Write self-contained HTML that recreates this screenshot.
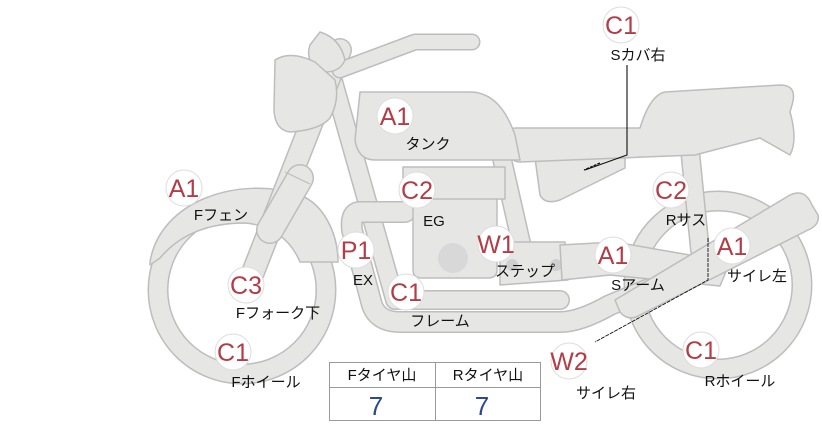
<!DOCTYPE html>
<html><head><meta charset="utf-8"><style>
html,body{margin:0;padding:0;background:#fff;width:822px;height:425px;overflow:hidden}
svg{display:block}
.s{fill:#e6e6e4;stroke:#bdbdbd;stroke-width:1.5;stroke-linejoin:round}
.bo{fill:none;stroke:#bdbdbd;stroke-linecap:round;stroke-linejoin:round}
.bi{fill:none;stroke:#e6e6e4;stroke-linecap:round;stroke-linejoin:round}
.b{fill:#fff;stroke:#ddd;stroke-width:1}
.bt{font-family:"Liberation Sans","DejaVu Sans",sans-serif;font-size:25px;fill:#b33d47;text-anchor:middle}
.l{font-family:"Liberation Sans","Noto Sans CJK JP",sans-serif;font-size:15px;fill:#111;text-anchor:middle}
</style></head><body>
<svg width="822" height="425" viewBox="0 0 822 425">
<!-- wheels -->
<circle cx="242" cy="290" r="84" class="bo" stroke-width="21"/>
<circle cx="242" cy="290" r="84" class="bi" stroke-width="18"/>
<circle cx="718" cy="285" r="84" class="bo" stroke-width="21"/>
<circle cx="718" cy="285" r="84" class="bi" stroke-width="18"/>
<!-- front fender -->
<path class="s" d="M150,262 C160,200 240,175 300,195 C325,205 338,235 338,262 L300,262 C290,238 270,225 245,223 C200,223 175,240 160,258 L150,265 Z"/>
<!-- rear frame/seat support -->
<path class="bo" stroke-width="20" d="M690,150 L700,250"/>
<path class="bi" stroke-width="17" d="M690,150 L700,250"/>
<!-- frame tubes -->
<path class="bo" stroke-width="20" d="M330,70 L395,300 L560,300"/>
<path class="bi" stroke-width="17" d="M330,70 L395,300 L560,300"/>
<path class="bo" stroke-width="20" d="M500,150 L525,260"/>
<path class="bi" stroke-width="17" d="M500,150 L525,260"/>
<!-- exhaust -->
<path class="bo" stroke-width="22" d="M405,212 L360,212 Q350,212 352,230 L372,305 Q378,322 400,322 L560,322 Q580,322 610,305 L700,268"/>
<path class="bi" stroke-width="19" d="M405,212 L360,212 Q350,212 352,230 L372,305 Q378,322 400,322 L560,322 Q580,322 610,305 L700,268"/>
<!-- engine -->
<path class="s" d="M413,198 L497,198 L497,270 Q497,278 488,278 L422,278 Q413,278 413,270 Z"/>
<rect class="s" x="403" y="167" width="102" height="32"/>
<circle cx="453" cy="258" r="15" fill="#d8d8d8"/>
<!-- step plate -->
<path class="s" d="M500,242 L565,242 L568,280 L500,285 Z"/>
<circle cx="512" cy="265" r="6" fill="#cfcfcf"/><circle cx="556" cy="265" r="6" fill="#cfcfcf"/>
<!-- swing arm -->
<path class="s" d="M560,245 L615,242 L730,262 L720,286 L610,275 L562,280 Z"/>
<!-- muffler -->
<path class="s" d="M615,300 L790,195 Q805,188 812,205 L818,215 Q820,225 808,230 L640,315 Q628,322 620,312 Z"/>
<!-- seat side cover -->
<path class="s" d="M535,158 L625,158 L625,168 L560,200 Q545,205 540,195 Z"/>
<!-- seat -->
<path class="s" d="M515,128 L640,128 Q650,95 665,92 L780,85 Q798,85 792,105 L790,112 Q798,140 790,155 L760,138 L695,155 L520,162 Q510,162 510,150 L510,135 Q510,128 515,128 Z"/>
<!-- tank -->
<path class="s" d="M360,92 L470,92 Q500,92 515,135 L520,160 L375,160 Q358,160 355,140 Z"/>
<!-- fork -->
<path class="bo" stroke-width="24" d="M250,280 L340,50"/>
<path class="bi" stroke-width="21" d="M250,280 L340,50"/>
<path class="bo" stroke-width="28" d="M270,230 L300,178"/>
<path class="bi" stroke-width="25" d="M270,230 L300,178"/>
<line x1="285" y1="172" x2="310" y2="184" stroke="#bdbdbd" stroke-width="1.2"/>
<!-- handlebar -->
<path class="bo" stroke-width="17" d="M340,70 L415,42 L472,42"/>
<path class="bi" stroke-width="14" d="M340,70 L415,42 L472,42"/>
<!-- cap / mirror -->
<path class="s" d="M320,32 Q340,38 345,60 Q340,72 325,72 L318,70 Q305,60 310,45 Z"/>
<!-- headlight -->
<path class="s" d="M275,60 Q290,50 315,62 L335,80 Q340,100 330,118 Q320,130 290,132 Q275,130 274,110 Z"/>
<!-- connector lines -->
<polyline points="627,65 627,155 585,170" fill="none" stroke="#111" stroke-width="1.1"/>
<line x1="600" y1="163" x2="584" y2="170" stroke="#111" stroke-width="1.3" stroke-dasharray="3,1"/>
<polyline points="708,238 708,280 595,342" fill="none" stroke="#111" stroke-width="0.9" stroke-dasharray="4,1"/>
<!-- badges -->
<g>
<circle class="b" cx="621" cy="25" r="18"/><text class="bt" x="621" y="34">C1</text><text class="l" x="638" y="60">Sカバ右</text>
<circle class="b" cx="395" cy="116" r="18"/><text class="bt" x="395" y="125">A1</text><text class="l" x="428" y="149">タンク</text>
<circle class="b" cx="184" cy="188" r="18"/><text class="bt" x="184" y="197">A1</text><text class="l" x="221" y="220">Fフェン</text>
<circle class="b" cx="417" cy="190" r="18"/><text class="bt" x="417" y="199">C2</text><text class="l" x="434" y="226">EG</text>
<circle class="b" cx="671" cy="190" r="18"/><text class="bt" x="671" y="199">C2</text><text class="l" x="686" y="225">Rサス</text>
<circle class="b" cx="356" cy="250" r="18"/><text class="bt" x="356" y="259">P1</text><text class="l" x="363" y="285">EX</text>
<circle class="b" cx="496" cy="244" r="18"/><text class="bt" x="496" y="253">W1</text><text class="l" x="525" y="276">ステップ</text>
<circle class="b" cx="613" cy="255" r="18"/><text class="bt" x="613" y="264">A1</text><text class="l" x="638" y="290">Sアーム</text>
<circle class="b" cx="732" cy="246" r="18"/><text class="bt" x="732" y="255">A1</text><text class="l" x="757" y="281">サイレ左</text>
<circle class="b" cx="246" cy="285" r="18"/><text class="bt" x="246" y="294">C3</text><text class="l" x="278" y="318">Fフォーク下</text>
<circle class="b" cx="406" cy="292" r="18"/><text class="bt" x="406" y="301">C1</text><text class="l" x="440" y="326">フレーム</text>
<circle class="b" cx="233" cy="352" r="18"/><text class="bt" x="233" y="361">C1</text><text class="l" x="266" y="387">Fホイール</text>
<circle class="b" cx="569" cy="361" r="18"/><text class="bt" x="569" y="370">W2</text><text class="l" x="606" y="398">サイレ右</text>
<circle class="b" cx="701" cy="350" r="18"/><text class="bt" x="701" y="359">C1</text><text class="l" x="740" y="386">Rホイール</text>
</g>
<!-- table -->
<rect x="329.5" y="362.5" width="211" height="58" fill="#fff" stroke="#9a9a9a"/>
<line x1="329" y1="387.5" x2="541" y2="387.5" stroke="#9a9a9a"/>
<line x1="435.5" y1="362" x2="435.5" y2="421" stroke="#9a9a9a"/>
<text class="l" x="382" y="380">Fタイヤ山</text>
<text class="l" x="488" y="380">Rタイヤ山</text>
<text x="376" y="415" font-family="Liberation Sans,sans-serif" font-size="26" fill="#2a4a8c" text-anchor="middle">7</text>
<text x="482" y="415" font-family="Liberation Sans,sans-serif" font-size="26" fill="#2a4a8c" text-anchor="middle">7</text>
</svg>
</body></html>
